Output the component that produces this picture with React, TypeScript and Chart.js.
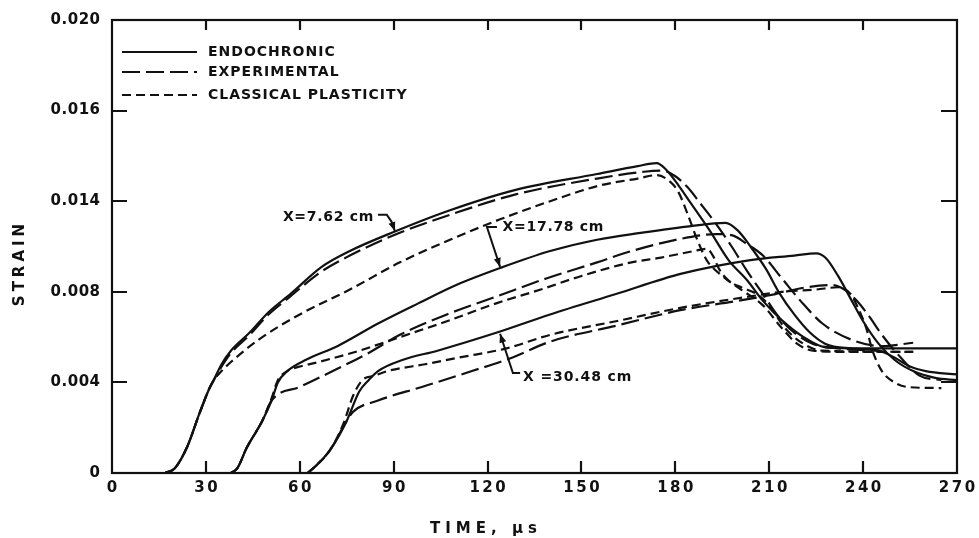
import React, { useEffect, useRef } from 'react';
import { Chart, registerables } from 'chart.js';

Chart.register(...registerables);

// ---- axis data ----
const xTickValues = [0, 30, 60, 90, 120, 150, 180, 210, 240, 270];
const yTickValues = [0, 0.004, 0.008, 0.012, 0.016, 0.02];
const yTickLabels = ['0', '0.004', '0.008', '0.014', '0.016', '0.020'];
const xTitle = 'TIME, \u03bcs';
const yTitle = 'STRAIN';
const seriesNames = ['ENDOCHRONIC', 'EXPERIMENTAL', 'CLASSICAL PLASTICITY'];
const locationLabels = ['X=7.62 cm', 'X=17.78 cm', 'X =30.48 cm'];

// ---- series: [time (µs), strain] ----
const endo762: [number, number][] = [
  [17, 0], [20, 0.0002], [24, 0.00115], [28, 0.00265], [31, 0.0037], [32.5, 0.0041], [35, 0.0048],
  [38, 0.0054], [44, 0.0062], [50, 0.0071], [57, 0.0079], [67, 0.0091], [76, 0.0098], [90, 0.01064],
  [108, 0.0116], [129, 0.0125], [155, 0.0132], [168, 0.01355], [174, 0.01368], [177, 0.0134],
  [181, 0.0127], [185, 0.0119], [191, 0.0107], [197, 0.0094], [203, 0.0085], [208, 0.0076],
  [214, 0.00675], [221, 0.006], [228, 0.00555], [240, 0.0055], [270, 0.0055],
];
const exp762: [number, number][] = [
  [17, 0], [20, 0.0002], [24, 0.00115], [28, 0.00265], [31, 0.0037], [32.5, 0.0041], [35, 0.0047],
  [38, 0.0053], [44, 0.0061], [50, 0.007], [57, 0.0078], [67, 0.0089], [76, 0.0096], [90, 0.0105],
  [108, 0.0114], [129, 0.0123], [155, 0.013], [170, 0.0133], [176, 0.01335], [180, 0.0131],
  [184, 0.0126], [188, 0.0119], [193, 0.011], [198, 0.01], [203, 0.0089], [208, 0.0079],
  [213, 0.0069], [218, 0.0062], [224, 0.0057], [232, 0.0055], [245, 0.0054],
];
const cls762: [number, number][] = [
  [17, 0], [20, 0.0002], [24, 0.00115], [28, 0.00265], [31, 0.0037], [32.5, 0.0041], [35, 0.0045],
  [38, 0.0049], [47, 0.0059], [60, 0.007], [76, 0.0081], [92, 0.0093], [108, 0.0103], [124, 0.0112],
  [140, 0.012], [156, 0.0127], [168, 0.013], [174, 0.01315], [178, 0.0129], [181, 0.0124],
  [184, 0.0114], [187, 0.0103], [190, 0.0094], [195, 0.0087], [201, 0.0081], [208, 0.0074],
  [214, 0.0064], [219, 0.0057], [224, 0.0054], [235, 0.00535], [256, 0.00535],
];

const endo1778: [number, number][] = [
  [38, 0], [40, 0.0002], [43, 0.0011], [48, 0.0023], [51, 0.0032], [53, 0.004], [56, 0.0045],
  [62, 0.005], [72, 0.0056], [85, 0.0066], [98, 0.0075], [110, 0.0083], [124, 0.00905], [140, 0.0098],
  [155, 0.0103], [169, 0.0106], [185, 0.0109], [196, 0.01104], [200, 0.0107], [204, 0.01],
  [209, 0.009], [213, 0.008], [218, 0.007], [223, 0.0062], [228, 0.0057], [236, 0.0055],
  [245, 0.0054], [250, 0.0051], [255, 0.0047], [260, 0.0045], [270, 0.00435],
];
const exp1778: [number, number][] = [
  [38, 0], [40, 0.0002], [43, 0.0011], [48, 0.0023], [51, 0.0032], [60, 0.0038], [72, 0.0046],
  [82, 0.0053], [92, 0.0061], [107, 0.007], [123, 0.0078], [139, 0.0086], [155, 0.0093], [166, 0.0098],
  [184, 0.0104], [193, 0.01055], [198, 0.0105], [203, 0.0101], [208, 0.0096], [214, 0.0086],
  [220, 0.0076], [227, 0.0066], [236, 0.0059], [246, 0.0056], [256, 0.00575],
];
const cls1778: [number, number][] = [
  [38, 0], [40, 0.0002], [43, 0.0011], [48, 0.0023], [51, 0.0033], [53, 0.0041], [56, 0.0045],
  [60, 0.0047], [66, 0.0049], [79, 0.0054], [92, 0.006], [107, 0.0067], [123, 0.0075], [137, 0.0081],
  [150, 0.0087], [166, 0.0093], [175, 0.0095], [186, 0.0098], [190, 0.0099], [192, 0.0096],
  [194, 0.009], [197, 0.0085], [201, 0.0082], [206, 0.0079], [210, 0.0074], [215, 0.0064],
  [221, 0.0057], [227, 0.0054], [256, 0.00535],
];

const endo3048: [number, number][] = [
  [62.5, 0], [65, 0.0003], [69.6, 0.001], [75, 0.0023], [79, 0.0036], [82, 0.0041], [85, 0.0045],
  [93, 0.005], [104, 0.0054], [123, 0.0062], [140, 0.007], [161, 0.0079], [182, 0.0088], [204, 0.0094],
  [218, 0.0096], [225, 0.0097], [228, 0.0095], [232, 0.0087], [236, 0.0077], [240, 0.0067],
  [245, 0.0057], [250, 0.005], [256, 0.0045], [263, 0.0042], [270, 0.0041],
];
const exp3048: [number, number][] = [
  [62.5, 0], [65, 0.0003], [69.6, 0.001], [75, 0.0023], [77, 0.0027], [85, 0.0032], [99, 0.0038],
  [115, 0.0045], [128, 0.0051], [140, 0.0058], [161, 0.0065], [182, 0.0072], [200, 0.0076],
  [212, 0.0079], [222, 0.0082], [230, 0.0083], [234, 0.0081], [238, 0.0076], [242, 0.0069],
  [246, 0.0061], [252, 0.0051], [258, 0.0043], [265, 0.0041],
];
const cls3048: [number, number][] = [
  [62.5, 0], [65, 0.0003], [69.6, 0.001], [74, 0.0022], [77, 0.0034], [80, 0.0041], [84, 0.0043],
  [88, 0.0045], [100, 0.0048], [111, 0.0051], [126, 0.0055], [140, 0.0061], [161, 0.0067],
  [182, 0.0073], [204, 0.0078], [214, 0.008], [225, 0.0081], [232, 0.0082], [236, 0.0079],
  [238, 0.0074], [241, 0.0064], [243, 0.0054], [246, 0.0045], [250, 0.004], [254, 0.0038],
  [265, 0.00375],
];

const INK = '#111111';
const DASH_EXP = [18, 6];
const DASH_CLS = [9, 5];

const mk = (pts: [number, number][], dash: number[]) => ({
  data: pts.map(([x, y]) => ({ x, y })),
  borderColor: INK,
  borderWidth: 2.2,
  borderDash: dash,
  pointRadius: 0,
  fill: false,
  cubicInterpolationMode: 'monotone' as const,
});

const FONT = '"DejaVu Sans", sans-serif';

function spacedText(ctx: CanvasRenderingContext2D, text: string, x: number, y: number, font: string, spacing: number, align: CanvasTextAlign) {
  ctx.save();
  ctx.font = font;
  (ctx as any).letterSpacing = spacing + 'px';
  ctx.textAlign = align;
  ctx.textBaseline = 'middle';
  ctx.fillStyle = INK;
  let dx = 0;
  if (align === 'right') dx = spacing;
  if (align === 'center') dx = spacing / 2;
  ctx.fillText(text, x + dx, y);
  ctx.restore();
}

function arrowPath(ctx: CanvasRenderingContext2D, pts: [number, number][]) {
  ctx.beginPath();
  pts.forEach(([x, y], i) => (i === 0 ? ctx.moveTo(x, y) : ctx.lineTo(x, y)));
  ctx.stroke();
  const [x1, y1] = pts[pts.length - 2];
  const [x2, y2] = pts[pts.length - 1];
  const a = Math.atan2(y2 - y1, x2 - x1);
  const L = 9, W = 3.5;
  ctx.beginPath();
  ctx.moveTo(x2, y2);
  ctx.lineTo(x2 - L * Math.cos(a) + W * Math.sin(a), y2 - L * Math.sin(a) - W * Math.cos(a));
  ctx.lineTo(x2 - L * Math.cos(a) - W * Math.sin(a), y2 - L * Math.sin(a) + W * Math.cos(a));
  ctx.closePath();
  ctx.fill();
}

const decor = {
  id: 'decor',
  afterDraw(chart: any) {
    const { ctx, chartArea: ca, scales } = chart;
    const xs = scales.x, ys = scales.y;
    const px = (v: number) => xs.getPixelForValue(v);
    const py = (v: number) => ys.getPixelForValue(v);
    ctx.save();
    ctx.strokeStyle = INK;
    ctx.fillStyle = INK;
    ctx.lineWidth = 2.2;
    ctx.setLineDash([]);
    // frame
    ctx.strokeRect(ca.left, ca.top, ca.right - ca.left, ca.bottom - ca.top);
    // inward ticks
    ctx.beginPath();
    xTickValues.slice(1, -1).forEach((v) => {
      const x = Math.round(px(v));
      ctx.moveTo(x, ca.bottom); ctx.lineTo(x, ca.bottom - 12);
      ctx.moveTo(x, ca.top); ctx.lineTo(x, ca.top + 10);
    });
    yTickValues.slice(1, -1).forEach((v) => {
      const y = Math.round(py(v));
      ctx.moveTo(ca.left, y); ctx.lineTo(ca.left + 15, y);
      ctx.moveTo(ca.right, y); ctx.lineTo(ca.right - 16, y);
    });
    ctx.stroke();
    // tick labels
    const tickFont = 'bold 15px ' + FONT;
    xTickValues.forEach((v) => spacedText(ctx, String(v), px(v), ca.bottom + 15, tickFont, 2.5, 'center'));
    yTickValues.forEach((v, i) => spacedText(ctx, yTickLabels[i], ca.left - 12, py(v), tickFont, 0.5, 'right'));
    // axis titles
    spacedText(ctx, xTitle, ca.left + 318, ca.bottom + 56, 'bold 15px ' + FONT, 5, 'left');
    ctx.save();
    ctx.translate(20, 265);
    ctx.rotate(-Math.PI / 2);
    spacedText(ctx, yTitle, 0, 0, 'bold 15px ' + FONT, 4, 'center');
    ctx.restore();
    // legend
    const lx0 = ca.left + 10, lx1 = ca.left + 85, tx = ca.left + 96;
    const rows = [ca.top + 32, ca.top + 52, ca.top + 75];
    const dashes = [[], DASH_EXP, DASH_CLS];
    rows.forEach((y, i) => {
      ctx.setLineDash(dashes[i]);
      ctx.beginPath();
      ctx.moveTo(lx0, y); ctx.lineTo(lx1, y);
      ctx.stroke();
      ctx.setLineDash([]);
      spacedText(ctx, seriesNames[i], tx, y, 'bold 14px ' + FONT, 1, 'left');
    });
    // location annotations
    const annFont = 'bold 14px ' + FONT;
    ctx.lineWidth = 2;
    spacedText(ctx, locationLabels[0], px(54.6), py(0.0113), annFont, 0.7, 'left');
    arrowPath(ctx, [[px(85), py(0.0114)], [px(87.8), py(0.0114)], [px(89.3), py(0.0111)], [px(90.4), py(0.01068)]]);
    spacedText(ctx, locationLabels[1], px(124.8), py(0.01086), annFont, 0.7, 'left');
    arrowPath(ctx, [[px(123), py(0.01086)], [px(119.8), py(0.01086)], [px(124), py(0.0091)]]);
    spacedText(ctx, locationLabels[2], px(131.3), py(0.00424), annFont, 0.9, 'left');
    arrowPath(ctx, [[px(130.4), py(0.00441)], [px(128.1), py(0.00441)], [px(124), py(0.00615)]]);
    ctx.restore();
  },
};

export default function App() {
  const ref = useRef<HTMLCanvasElement | null>(null);
  useEffect(() => {
    if (!ref.current) return;
    const chart = new Chart(ref.current, {
      type: 'line',
      data: {
        datasets: [
          mk(endo762, []), mk(exp762, DASH_EXP), mk(cls762, DASH_CLS),
          mk(endo1778, []), mk(exp1778, DASH_EXP), mk(cls1778, DASH_CLS),
          mk(endo3048, []), mk(exp3048, DASH_EXP), mk(cls3048, DASH_CLS),
        ],
      },
      options: {
        animation: false,
        responsive: false,
        maintainAspectRatio: false,
        layout: { padding: { top: 20, right: 22, left: 0, bottom: 0 } },
        plugins: { legend: { display: false }, tooltip: { enabled: false } },
        scales: {
          x: {
            type: 'linear', min: 0, max: 270,
            ticks: { display: false, stepSize: 30 },
            grid: { display: false }, border: { display: false },
            afterFit: (s: any) => { s.height = 65; },
          },
          y: {
            type: 'linear', min: 0, max: 0.02,
            ticks: { display: false, stepSize: 0.004 },
            grid: { display: false }, border: { display: false },
            afterFit: (s: any) => { s.width = 112; },
          },
        },
      },
      plugins: [decor],
    });
    return () => chart.destroy();
  }, []);
  return (
    <div style={{ position: 'fixed', left: 0, top: 0, width: 979, height: 538, background: '#fff' }}>
      <canvas ref={ref} width={979} height={538} style={{ display: 'block' }} />
    </div>
  );
}
